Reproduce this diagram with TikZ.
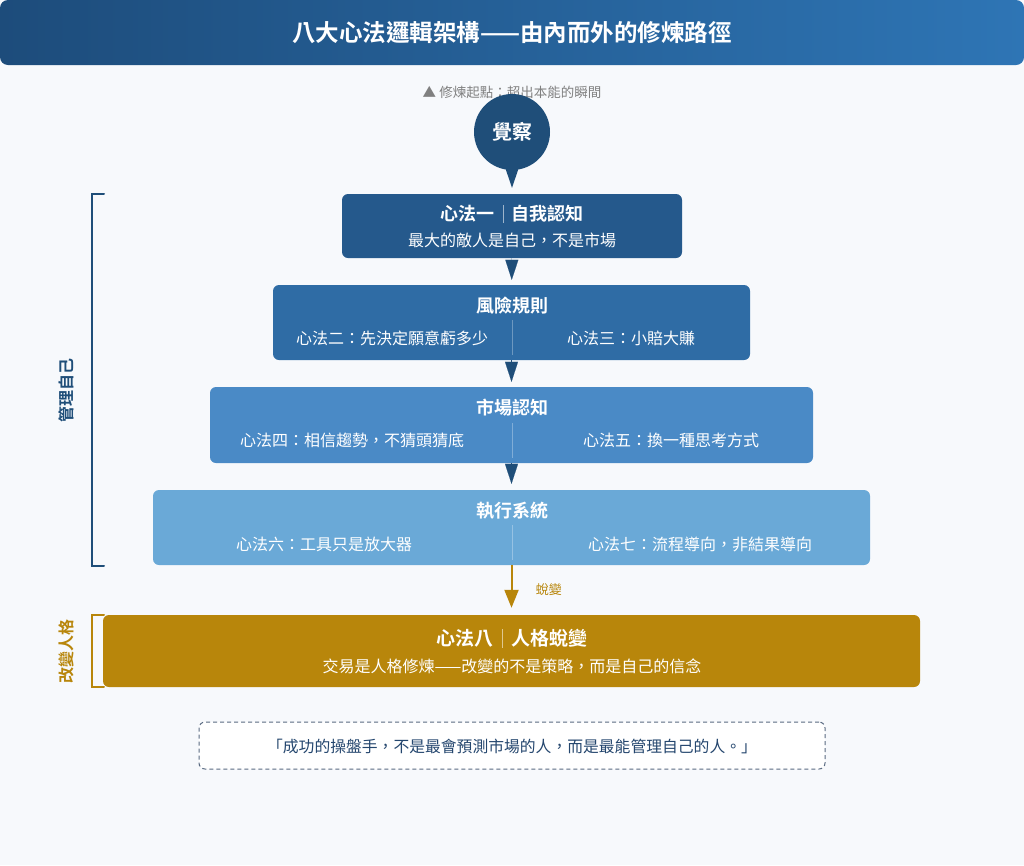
\documentclass[tikz,border=0pt]{standalone}
\usepackage{fontspec}
\setmainfont{Noto Sans CJK TC}[BoldFont={Noto Sans CJK TC Bold}]
\usetikzlibrary{arrows.meta}

\definecolor{pagebg}{HTML}{F7F9FC}
\definecolor{titleleft}{HTML}{1D4C7B}
\definecolor{titleright}{HTML}{2E75B5}
\definecolor{awareblue}{HTML}{1F4E79}
\definecolor{lawone}{HTML}{25598C}
\definecolor{lawtwo}{HTML}{2F6CA5}
\definecolor{lawthree}{HTML}{4A8AC6}
\definecolor{lawfour}{HTML}{6AA9D7}
\definecolor{lawgold}{HTML}{B8860B}
\definecolor{greytext}{HTML}{808080}
\definecolor{quoteline}{HTML}{5A6B82}
\definecolor{quotetext}{HTML}{24466E}

\newcommand{\lawsep}[1]{\hspace{0.45em}\textcolor{#1}{\rule[-0.12em]{0.7pt}{1em}}\hspace{0.45em}}

\begin{document}
\begin{tikzpicture}[x=1pt, y=-1pt,
law_box/.style={rectangle, rounded corners=6pt, draw=none, inner sep=0pt},
law_title/.style={text=white, font=\bfseries\fontsize{18}{21}\selectfont},
law_text/.style={text=white, font=\fontsize{16}{19}\selectfont},
step_arrow/.style={-{Triangle[width=13pt,length=20pt]}, line width=0.1pt, draw=awareblue, fill=awareblue},
gold_arrow/.style={-{Triangle[width=14pt,length=18pt]}, line width=2pt, draw=lawgold, fill=lawgold},
divider/.style={white, opacity=0.3, line width=0.8pt},
bracket/.style={line width=2pt, line cap=round},
side_label/.style={rotate=90, font=\bfseries\fontsize{16}{18}\selectfont}
]

\fill[pagebg] (0,0) rectangle (1024,865);

% title
\node[rectangle, rounded corners=8pt, left color=titleleft, right color=titleright, minimum width=1024pt, minimum height=65pt, inner sep=0pt](title_bar) at (512,32.5) {};
\node[text=white, font=\bfseries\fontsize{23.5}{27}\selectfont](title_text) at (512,33) {八大心法邏輯架構——由內而外的修煉路徑};

\node[text=greytext, font=\fontsize{13.5}{16}\selectfont](start_note) at (512,92) {▲ 修煉起點：超出本能的瞬間};
\node[circle, fill=awareblue, minimum size=76pt, inner sep=0pt, text=white, font=\bfseries\fontsize{20}{24}\selectfont](awareness) at (512,132) {覺察};

% boxes
\node[law_box, fill=lawone, minimum width=340pt, minimum height=64pt](law_one) at (512,226) {};
\node[law_box, fill=lawtwo, minimum width=477pt, minimum height=75pt](risk) at (511.5,322.5) {};
\node[law_box, fill=lawthree, minimum width=603pt, minimum height=76pt](market) at (511.5,425) {};
\node[law_box, fill=lawfour, minimum width=717pt, minimum height=75pt](execution) at (511.5,527.5) {};
\node[law_box, fill=lawgold, minimum width=817pt, minimum height=72pt](law_eight) at (511.5,651) {};
\node[law_box, fill=white, draw=quoteline, line width=1pt, dash pattern=on 4pt off 3pt, minimum width=626pt, minimum height=47pt](quote_box) at (512,745.5) {};

% texts
\node[law_title](law_one_title) at (512,214) {心法一\lawsep{white!55!lawone}自我認知};
\node[law_text](law_one_text) at (512,240) {最大的敵人是自己，不是市場};

\node[law_title](risk_title) at (512,306) {風險規則};
\node[law_text](law_two) at (392,338) {心法二：先決定願意虧多少};
\node[law_text](law_three) at (631,338) {心法三：小賠大賺};

\node[law_title](market_title) at (512,408) {市場認知};
\node[law_text](law_four) at (352,440) {心法四：相信趨勢，不猜頭猜底};
\node[law_text](law_five) at (671,440) {心法五：換一種思考方式};

\node[law_title](execution_title) at (512,511) {執行系統};
\node[law_text](law_six) at (324,544) {心法六：工具只是放大器};
\node[law_text](law_seven) at (700,544) {心法七：流程導向，非結果導向};

\node[law_title, font=\bfseries\fontsize{19}{22}\selectfont](law_eight_title) at (512,638) {心法八\lawsep{white!55!lawgold}人格蛻變};
\node[law_text](law_eight_text) at (512,666) {交易是人格修煉——改變的不是策略，而是自己的信念};

\node[text=quotetext, font=\fontsize{15.8}{19}\selectfont](quote_text) at (512,746) {「成功的操盤手，不是最會預測市場的人，而是最能管理自己的人。」};

% dividers
\draw[divider] (512,320) -- (512,355);
\draw[divider] (512,423) -- (512,458);
\draw[divider] (512,525) -- (512,560);

% arrows
\fill[awareblue] ([xshift=-8pt,yshift=6pt]awareness.south) -- ([xshift=8pt,yshift=6pt]awareness.south) -- ([yshift=6pt]law_one.north) -- cycle;
\draw[step_arrow, shorten >=5pt](law_one) to [] (risk);
\draw[step_arrow, shorten >=5pt](risk) to [] (market);
\draw[step_arrow, shorten >=6pt](market) to [] (execution);
\draw[gold_arrow, shorten >=7pt](execution) to [] node[midway, right=20pt, text=lawgold, font=\fontsize{13}{15}\selectfont]{蛻變} (law_eight);

% side brackets
\draw[bracket, awareblue] (104,194) -- (92,194) -- (92,566) -- (104,566);
\node[side_label, text=awareblue](manage_self) at (66,390) {管理自己};
\draw[bracket, lawgold] (104,615) -- (92,615) -- (92,687) -- (104,687);
\node[side_label, text=lawgold](change_self) at (66,651) {改變人格};

\end{tikzpicture}
\end{document}
